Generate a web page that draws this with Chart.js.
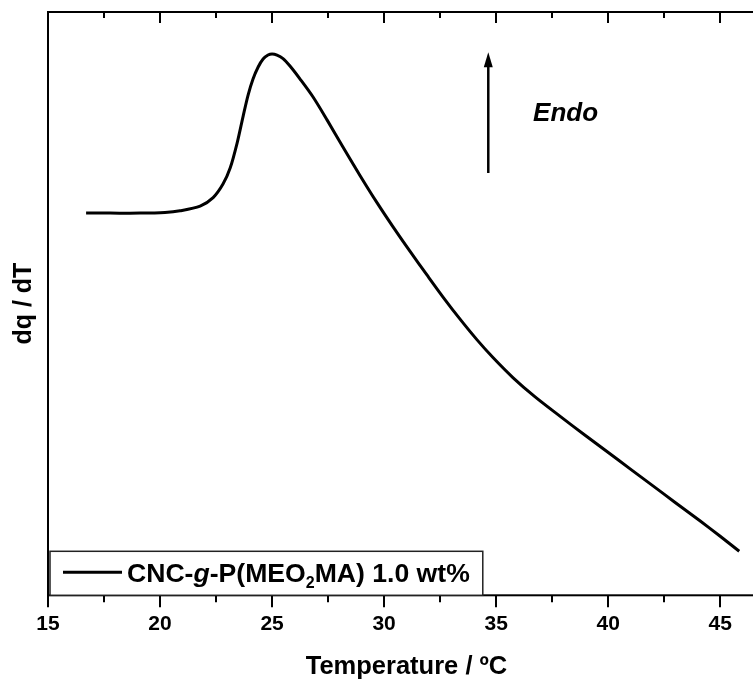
<!DOCTYPE html>
<html>
<head>
<meta charset="utf-8">
<script src="https://cdn.jsdelivr.net/npm/chart.js@4.4.1/dist/chart.umd.min.js"></script>
<style>
  html, body { margin: 0; padding: 0; background: #fff; overflow: hidden; }
  canvas { display: block; }
</style>
</head>
<body>
<canvas id="grafico" width="790" height="680"></canvas>
<script>
// DSC trace, heat flow in arbitrary units
const temperatura = [16.70, 17.77, 19.11, 20.22, 20.89, 21.79, 22.37, 22.81, 23.13, 23.44,
  23.71, 23.93, 24.15, 24.38, 24.60, 24.82, 25.00, 25.22, 25.49, 25.80, 26.25, 26.83,
  27.46, 28.17, 28.93, 29.69, 30.40, 31.16, 31.92, 32.63, 33.39, 34.15, 34.87, 35.76,
  36.74, 37.86, 38.97, 39.96, 40.98, 41.88, 42.99, 44.11, 45.00, 45.85];
const dqdT = [65.52, 65.52, 65.52, 65.64, 65.92, 66.72, 68.18, 70.50, 73.24, 77.53,
  82.16, 85.76, 88.51, 90.57, 91.94, 92.62, 92.80, 92.62, 92.02, 90.74, 88.51, 85.42,
  81.46, 76.81, 71.94, 67.27, 63.16, 58.95, 54.87, 51.13, 47.34, 43.79, 40.72, 37.29,
  34.01, 30.67, 27.44, 24.61, 21.68, 19.11, 15.92, 12.73, 10.12, 7.55];

// legend text, split for the italic g and the subscript 2
const leyenda = [
  { t: 'CNC-' },
  { t: 'g', italic: true },
  { t: '-P(MEO' },
  { t: '2', sub: true },
  { t: 'MA) 1.0 wt%' }
];
const flecha = { x: 34.65, y0: 72.4, y1: 93.1 };
const endo = { x: 36.65, y: 82.5, texto: 'Endo' };

const FUENTE = '"Liberation Sans", Arial, sans-serif';

const marco = {
  id: 'marco',
  afterDraw(chart) {
    const { ctx, chartArea: a, scales: { x, y } } = chart;
    ctx.save();
    ctx.strokeStyle = '#000';
    ctx.fillStyle = '#000';
    ctx.lineWidth = 2;
    ctx.strokeRect(a.left, a.top, a.width, a.height);

    // ticks: outward on the bottom axis, inward on the top
    x.ticks.forEach(t => {
      const px = Math.round(x.getPixelForValue(t.value));
      const largo = t.value % 5 === 0 ? 12 : 7;
      ctx.beginPath();
      ctx.moveTo(px, a.bottom);
      ctx.lineTo(px, a.bottom + largo);
      ctx.moveTo(px, a.top);
      ctx.lineTo(px, a.top + largo - 1);
      ctx.stroke();
    });

    // Endo arrow
    const fx = x.getPixelForValue(flecha.x);
    const fy0 = y.getPixelForValue(flecha.y0);
    const fy1 = y.getPixelForValue(flecha.y1);
    ctx.lineWidth = 2.5;
    ctx.beginPath();
    ctx.moveTo(fx, fy0);
    ctx.lineTo(fx, fy1 + 12);
    ctx.stroke();
    ctx.beginPath();
    ctx.moveTo(fx, fy1);
    ctx.lineTo(fx - 4.5, fy1 + 15);
    ctx.lineTo(fx + 4.5, fy1 + 15);
    ctx.closePath();
    ctx.fill();

    ctx.font = 'italic bold 26px ' + FUENTE;
    ctx.textBaseline = 'middle';
    ctx.fillText(endo.texto, x.getPixelForValue(endo.x), y.getPixelForValue(endo.y));

    // legend box
    const normal = 'bold 26.6px ' + FUENTE;
    const cursiva = 'italic bold 26.6px ' + FUENTE;
    const sub = 'bold 16px ' + FUENTE;
    let ancho = 0;
    leyenda.forEach(p => {
      ctx.font = p.sub ? sub : (p.italic ? cursiva : normal);
      ancho += ctx.measureText(p.t).width;
    });
    const bx = a.left + 2, by = a.bottom - 44;
    const tx = bx + 77;
    const bw = tx - bx + ancho + 13;
    ctx.fillStyle = '#fff';
    ctx.fillRect(bx, by, bw, 44);
    ctx.strokeStyle = '#222';
    ctx.lineWidth = 1.5;
    ctx.strokeRect(bx, by, bw, 44);
    ctx.strokeStyle = '#000';
    ctx.lineWidth = 3;
    ctx.beginPath();
    ctx.moveTo(bx + 13, by + 21);
    ctx.lineTo(bx + 72, by + 21);
    ctx.stroke();

    ctx.fillStyle = '#000';
    ctx.textBaseline = 'alphabetic';
    let cx = tx;
    const base = by + 31;
    leyenda.forEach(p => {
      ctx.font = p.sub ? sub : (p.italic ? cursiva : normal);
      ctx.fillText(p.t, cx, p.sub ? base + 6 : base);
      cx += ctx.measureText(p.t).width;
    });
    ctx.restore();
  }
};

const ctx = document.getElementById('grafico');

new Chart(ctx, {
  type: 'line',
  data: {
    datasets: [{
      label: 'CNC-g-P(MEO2MA) 1.0 wt%',
      data: temperatura.map((t, i) => ({ x: t, y: dqdT[i] })),
      borderColor: '#000',
      borderWidth: 3,
      pointRadius: 0,
      tension: 0.3,
      fill: false
    }]
  },
  options: {
    responsive: false,
    animation: false,
    layout: { padding: { top: 12, right: 25, left: 0, bottom: 0 } },
    plugins: {
      legend: { display: false },
      tooltip: { enabled: false }
    },
    scales: {
      x: {
        type: 'linear',
        min: 15,
        max: 47,
        grid: { display: false, drawTicks: true, tickLength: 12 },
        border: { display: false },
        ticks: {
          stepSize: 2.5,
          includeBounds: false,
          autoSkip: false,
          maxRotation: 0,
          padding: 4,
          color: '#000',
          font: { family: FUENTE, size: 21, weight: 'bold' },
          callback: v => (v % 5 === 0 ? v : '')
        },
        title: {
          display: true,
          text: 'Temperature / ºC',
          color: '#000',
          font: { family: FUENTE, size: 25.5, weight: 'bold', lineHeight: 1 },
          padding: { top: 14, bottom: 0 }
        }
      },
      y: {
        min: 0,
        max: 100,
        grid: { display: false, drawTicks: false },
        border: { display: false },
        ticks: { display: false },
        title: {
          display: true,
          text: 'dq / dT',
          color: '#000',
          font: { family: FUENTE, size: 25, weight: 'bold', lineHeight: 1 },
          padding: { top: 12, bottom: 11 }
        }
      }
    }
  },
  plugins: [marco]
});
</script>
</body>
</html>
